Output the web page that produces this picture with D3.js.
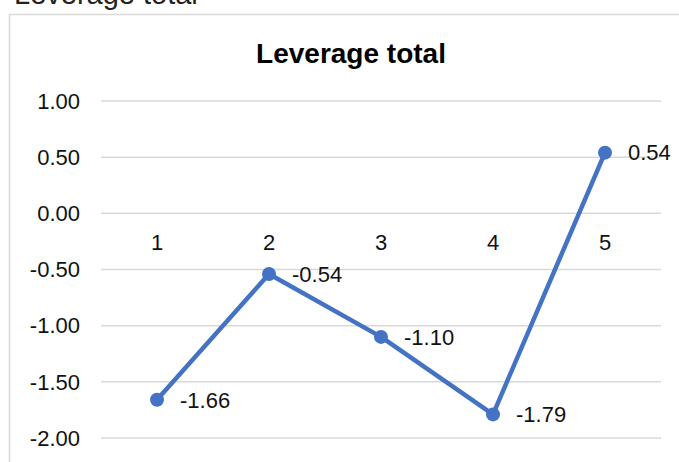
<!DOCTYPE html>
<html>
<head>
<meta charset="utf-8">
<script src="https://cdn.jsdelivr.net/npm/d3@7"></script>
<style>
  body { margin: 0; background: #fff; }
  svg { display: block; font-family: "Liberation Sans", Arial, sans-serif; }
</style>
</head>
<body>
<svg id="chart" width="679" height="462"></svg>
<script>
const categories = ["1", "2", "3", "4", "5"];
const values = [-1.66, -0.54, -1.10, -1.79, 0.54];
const yTicks = [1.0, 0.5, 0, -0.5, -1.0, -1.5, -2.0];

const svg = d3.select("#chart");
const W = 679, H = 462;
const plot = { left: 101, right: 661, top: 101, bottom: 438 };

// caption above the box, cut off by the page edge
svg.append("text")
  .attr("x", 14)
  .attr("y", 4)
  .attr("font-size", 29)
  .attr("fill", "#222")
  .text("Leverage total");

// chart box
svg.append("rect")
  .attr("x", 9.5)
  .attr("y", 14.5)
  .attr("width", W + 20)
  .attr("height", H + 20)
  .attr("fill", "#fff")
  .attr("stroke", "#d9d9d9")
  .attr("stroke-width", 1.5);

svg.append("text")
  .attr("x", 351)
  .attr("y", 63)
  .attr("text-anchor", "middle")
  .attr("font-size", 28)
  .attr("font-weight", "bold")
  .attr("fill", "#000")
  .text("Leverage total");

let x = d3.scaleBand()
  .domain(categories)
  .range([plot.left, plot.right]);

let y = d3.scaleLinear()
  .domain([-2, 1])
  .range([plot.bottom, plot.top]);

let fmt = d => d3.format(".2f")(d).replace("−", "-");

// gridlines
svg.append("g")
  .selectAll("line")
  .data(yTicks)
  .enter()
  .append("line")
  .attr("x1", plot.left)
  .attr("x2", plot.right)
  .attr("y1", d => y(d))
  .attr("y2", d => y(d))
  .attr("stroke", "#d9d9d9")
  .attr("stroke-width", 1.5);

// y tick labels
svg.append("g")
  .selectAll("text")
  .data(yTicks)
  .enter()
  .append("text")
  .attr("x", 80)
  .attr("y", d => y(d))
  .attr("dy", "0.35em")
  .attr("text-anchor", "end")
  .attr("font-size", 22)
  .attr("fill", "#111")
  .text(fmt);

// category labels sit just under the zero line
svg.append("g")
  .selectAll("text")
  .data(categories)
  .enter()
  .append("text")
  .attr("x", d => x(d) + x.bandwidth() / 2)
  .attr("y", y(0) + 29)
  .attr("dy", "0.35em")
  .attr("text-anchor", "middle")
  .attr("font-size", 22)
  .attr("fill", "#111")
  .text(d => d);

let pts = categories.map((c, i) => ({ c: c, v: values[i] }));

let line = d3.line()
  .x(d => x(d.c) + x.bandwidth() / 2)
  .y(d => y(d.v));

svg.append("path")
  .datum(pts)
  .attr("d", line)
  .attr("fill", "none")
  .attr("stroke", "#4472c4")
  .attr("stroke-width", 4.5)
  .attr("stroke-linejoin", "round");

svg.append("g")
  .selectAll("circle")
  .data(pts)
  .enter()
  .append("circle")
  .attr("cx", d => x(d.c) + x.bandwidth() / 2)
  .attr("cy", d => y(d.v))
  .attr("r", 7)
  .attr("fill", "#4472c4");

// data labels to the right of each point
svg.append("g")
  .selectAll("text")
  .data(pts)
  .enter()
  .append("text")
  .attr("x", d => x(d.c) + x.bandwidth() / 2 + 23)
  .attr("y", d => y(d.v))
  .attr("dy", "0.35em")
  .attr("font-size", 22)
  .attr("fill", "#111")
  .text(d => fmt(d.v));
</script>
</body>
</html>
